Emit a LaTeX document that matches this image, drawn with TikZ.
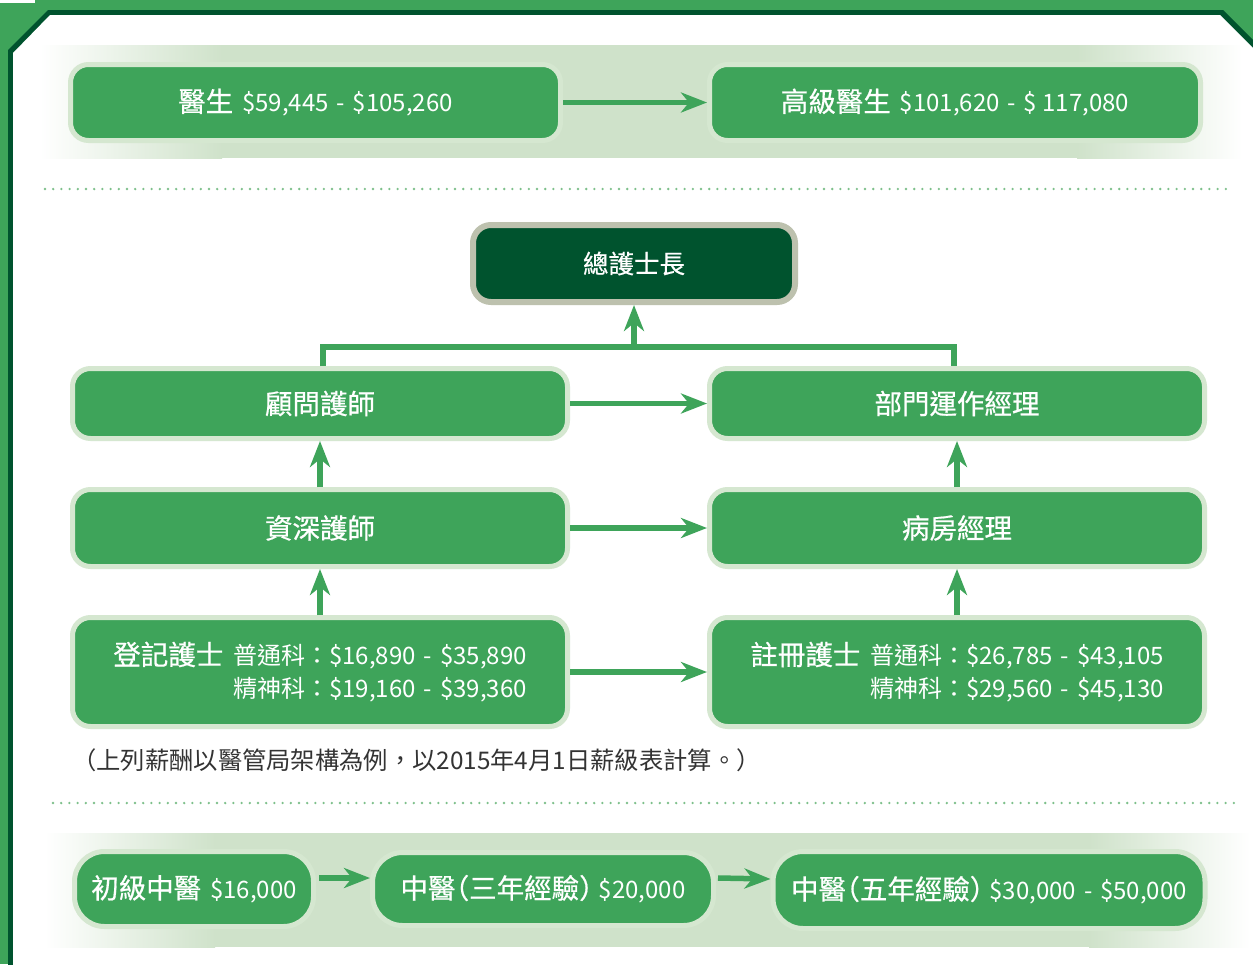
\documentclass[tikz,border=0pt]{standalone}
\usepackage{fontspec}
\setmainfont{Noto Sans CJK TC}
\newfontfamily\ttlf[FakeBold=0.6]{Noto Sans CJK TC}
\newfontfamily\halff[FakeBold=0.6,RawFeature=+halt]{Noto Sans CJK TC}
\usetikzlibrary{arrows.meta}
\definecolor{gr}{HTML}{3EA45A}
\definecolor{dg}{HTML}{00532E}
\definecolor{band}{HTML}{CFE2CA}
\definecolor{bord}{HTML}{D5E7D0}
\definecolor{gbord}{HTML}{BDC1AE}
\definecolor{notec}{HTML}{333333}
\definecolor{dotc}{HTML}{7DC08A}
\newcommand{\ttl}{\ttlf\fontsize{27.5}{32}\selectfont}
\newcommand{\sal}{\fontsize{24}{28}\selectfont}
\newcommand{\dash}{\hspace{0.33em}-\hspace{0.33em}}
\tikzset{
  box/.style={fill=gr, draw=bord, line width=5pt, rounded corners=18pt, text=white, inner sep=0pt},
  pill/.style={box, rounded corners=30pt},
  arr/.style={-{Stealth[length=26pt,width=20pt,inset=8pt]}, line width=5.5pt, draw=gr},
  conn/.style={line width=5.5pt, draw=gr},
  dots/.style={draw=dotc, line width=2.6pt, dash pattern=on 0pt off 8.2pt, line cap=round}
}
\begin{document}
\begin{tikzpicture}[x=1pt,y=-1pt]
\useasboundingbox (0,0) rectangle (1253,964);
% frame
\fill[gr] (0,0) rectangle (1253,964);
\fill[white] (0,0) rectangle (35,3);
\fill[dg] (8,972) -- (8,50) -- (48,10) -- (1223,10) -- (1260,47) -- (1260,972) -- cycle;
\fill[white] (13,972) -- (13,53) -- (50,15) -- (1220,15) -- (1260,55) -- (1260,972) -- cycle;
% bands
\shade[left color=white, right color=band] (40,45) rectangle (222,158);
\fill[band] (221,45) rectangle (1078,158);
\shade[left color=band, right color=white] (1077,45) rectangle (1242,158);
\shade[left color=white, right color=band] (45,833) rectangle (215,947);
\fill[band] (214,833) rectangle (1090,947);
\shade[left color=band, right color=white] (1089,833) rectangle (1250,947);
% dotted rules
\draw[dots] (45,189) -- (1230,189);
\draw[dots] (53,803) -- (1240,803);
% top row
\node[box, minimum width=490pt, minimum height=76pt] (doc) at (315.5,102.5)
  {{\ttl 醫生}\hspace{9pt}{\sal \$59,445\dash\$105,260}};
\node[box, minimum width=491pt, minimum height=76pt] (sdoc) at (955,102.5)
  {{\ttl 高級醫生}\hspace{9pt}{\sal \$101,620\dash\$ 117,080}};
\draw[arr] (doc) -- (sdoc);
% nursing ladder
\node[box, fill=dg, draw=gbord, line width=6pt, minimum width=322pt, minimum height=77pt] (zong) at (634,263.5)
  {\ttlf\fontsize{25.5}{30}\selectfont 總護士長};
\node[box, minimum width=495pt, minimum height=70pt] (gw) at (320,403.5) {\ttl 顧問護師};
\node[box, minimum width=495pt, minimum height=70pt] (bm) at (957,403.5) {\ttl 部門運作經理};
\node[box, minimum width=495pt, minimum height=77pt] (zs) at (320,528) {\ttl 資深護師};
\node[box, minimum width=495pt, minimum height=77pt] (bf) at (957,528) {\ttl 病房經理};
\node[box, minimum width=495pt, minimum height=109pt] (dj) at (320,672)
  {\begin{tabular}{@{}r@{\hspace{10pt}}l@{}}
   {\ttl 登記護士} & {\sal 普通科：\$16,890\dash\$35,890}\\[9pt]
   & {\sal 精神科：\$19,160\dash\$39,360}
   \end{tabular}};
\node[box, minimum width=495pt, minimum height=109pt] (zc) at (957,672)
  {\begin{tabular}{@{}r@{\hspace{10pt}}l@{}}
   {\ttl 註冊護士} & {\sal 普通科：\$26,785\dash\$43,105}\\[9pt]
   & {\sal 精神科：\$29,560\dash\$45,130}
   \end{tabular}};
\coordinate (j) at (634,347);
\draw[conn] ([xshift=3pt]gw.north) |- (j) -| ([xshift=-3pt]bm.north);
\draw[arr] (j) -- (zong.south);
\draw[arr] (gw) -- (bm);
\draw[arr] (zs) -- (bf);
\draw[arr] (dj) -- (zc);
\draw[arr] (zs) -- (gw);
\draw[arr] (dj) -- (zs);
\draw[arr] (bf) -- (bm);
\draw[arr] (zc) -- (bf);
\node[anchor=west, text=notec, inner sep=0pt] (nt) at (72,760)
  {\fontsize{24.3}{28}\selectfont （上列薪酬以醫管局架構為例，以2015年4月1日薪級表計算。）};
% Chinese medicine row
\node[pill, minimum width=239pt, minimum height=75pt] (zy1) at (194,889)
  {{\ttl 初級中醫}\hspace{9pt}{\sal \$16,000}};
\node[pill, minimum width=341pt, minimum height=73pt] (zy2) at (543,889)
  {{\ttl 中醫{\halff（}三年經驗{\halff ）}}\hspace{6pt}{\sal \$20,000}};
\node[pill, minimum width=432pt, minimum height=77pt] (zy3) at (989,890)
  {{\ttl 中醫{\halff（}五年經驗{\halff ）}}\hspace{6pt}{\sal \$30,000\dash\$50,000}};
\draw[arr] ([yshift=11pt]zy1.east) ++(3,0) -- ([yshift=11pt]zy2.west);
\draw[arr] ([yshift=11pt]zy2.east) ++(2,0) -- ([yshift=11pt]zy3.west);
\end{tikzpicture}
\end{document}
